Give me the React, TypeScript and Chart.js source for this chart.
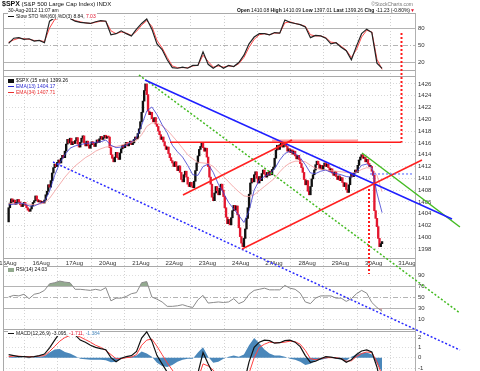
import React, { useEffect, useRef } from 'react';
import { Chart, registerables } from 'chart.js';

Chart.register(...registerables);

const W = 480;
const H = 371;
const FONT = "'Liberation Sans', Arial, sans-serif";

// ---------------- data ----------------
const dayLabels = ['15Aug', '16Aug', '17Aug', '20Aug', '21Aug', '22Aug', '23Aug', '24Aug', '27Aug', '28Aug', '29Aug', '30Aug', '31Aug'];
const BARS_PER_DAY = 26;

// 15-minute closes, one array per session
const firstOpen = 1402.6;
const closes15Aug = [1405.0, 1405.8, 1406.5, 1406.0, 1406.3, 1405.6, 1405.9, 1406.4, 1406.0, 1405.5, 1405.2, 1405.6, 1405.9, 1405.4, 1405.0, 1404.6, 1404.4, 1404.8, 1405.3, 1405.9, 1406.2, 1407.0, 1406.4, 1406.0, 1406.2, 1405.9];
const closes16Aug = [1406.0, 1405.8, 1406.3, 1407.2, 1407.8, 1408.9, 1408.5, 1409.6, 1410.9, 1411.8, 1412.4, 1412.0, 1412.7, 1413.1, 1412.6, 1413.4, 1413.9, 1413.5, 1414.6, 1415.8, 1416.6, 1416.0, 1416.8, 1415.7, 1416.2, 1415.9];
const closes17Aug = [1416.4, 1416.9, 1415.8, 1415.3, 1416.1, 1416.8, 1417.2, 1416.0, 1415.5, 1416.3, 1415.6, 1415.1, 1415.7, 1416.2, 1415.8, 1415.4, 1416.0, 1416.5, 1416.1, 1416.7, 1417.1, 1416.6, 1416.9, 1417.3, 1416.8, 1417.1];
const closes20Aug = [1417.0, 1415.2, 1414.0, 1413.4, 1412.8, 1413.6, 1414.4, 1413.5, 1413.2, 1414.3, 1415.0, 1415.6, 1415.2, 1415.8, 1416.1, 1415.5, 1415.9, 1416.3, 1415.7, 1416.0, 1416.6, 1417.0, 1416.7, 1417.6, 1418.4, 1419.6];
const closes21Aug = [1421.2, 1423.1, 1424.9, 1426.0, 1424.2, 1421.4, 1420.8, 1421.2, 1420.1, 1419.6, 1420.3, 1419.2, 1418.8, 1418.0, 1417.4, 1416.6, 1417.0, 1416.2, 1415.5, 1414.9, 1415.3, 1414.2, 1413.5, 1413.0, 1412.6, 1412.0];
const closes22Aug = [1412.8, 1412.0, 1411.3, 1412.1, 1411.0, 1409.8, 1409.4, 1410.6, 1411.2, 1410.2, 1409.0, 1408.6, 1409.3, 1408.7, 1408.4, 1409.5, 1411.3, 1412.6, 1413.8, 1414.9, 1415.4, 1416.0, 1415.2, 1414.6, 1415.1, 1413.6];
const closes23Aug = [1412.0, 1410.2, 1409.0, 1406.8, 1406.2, 1407.5, 1408.6, 1407.9, 1407.2, 1408.3, 1409.0, 1408.0, 1406.9, 1405.0, 1403.4, 1402.3, 1403.0, 1402.1, 1403.3, 1404.5, 1405.4, 1404.6, 1405.3, 1403.8, 1401.6, 1400.1];
const closes24Aug = [1399.0, 1398.4, 1399.8, 1401.4, 1403.2, 1405.0, 1407.3, 1409.2, 1410.0, 1409.4, 1410.6, 1411.1, 1410.0, 1409.2, 1410.3, 1409.6, 1410.8, 1411.4, 1410.7, 1410.2, 1411.0, 1410.5, 1411.2, 1410.6, 1411.5, 1411.9];
const closes27Aug = [1413.4, 1414.8, 1415.6, 1414.9, 1415.7, 1416.0, 1415.3, 1415.8, 1416.1, 1415.4, 1414.6, 1415.0, 1414.4, 1414.8, 1414.1, 1414.6, 1413.8, 1413.3, 1413.9, 1413.2, 1412.5, 1411.8, 1411.0, 1409.8, 1408.9, 1409.6];
const closes28Aug = [1407.8, 1407.2, 1408.6, 1409.9, 1410.6, 1411.4, 1412.3, 1412.9, 1412.4, 1411.7, 1412.2, 1411.5, 1412.1, 1412.6, 1412.0, 1412.4, 1411.8, 1411.2, 1411.6, 1410.9, 1410.5, 1411.1, 1410.3, 1409.8, 1410.4, 1409.6];
const closes29Aug = [1410.1, 1409.3, 1408.6, 1409.2, 1408.1, 1407.6, 1408.9, 1410.2, 1410.8, 1410.3, 1410.9, 1411.4, 1411.0, 1412.2, 1413.1, 1413.6, 1414.0, 1413.4, 1413.6, 1412.8, 1413.2, 1412.5, 1412.0, 1412.0, 1411.2, 1410.5];
const closes30Aug = [1404.5, 1403.2, 1401.8, 1399.8, 1398.4, 1398.9, 1399.26];

// indicators, sampled every 4th bar
const INDICATOR_STEP = 4;
const ema13 = [1405.5, 1405.6, 1405.8, 1405.7, 1405.3, 1405.3, 1405.7, 1406.0, 1407.8, 1410.5, 1412.6, 1414.0, 1415.1, 1415.5, 1415.7, 1415.9, 1416.0, 1416.1, 1416.2, 1416.5, 1415.6, 1415.2, 1415.3, 1415.6, 1416.2, 1416.9, 1419.0, 1421.4, 1422.1, 1420.8, 1419.1, 1417.7, 1415.6, 1414.5, 1413.6, 1412.2, 1410.6, 1410.5, 1412.0, 1412.4, 1411.0, 1409.0, 1407.5, 1405.9, 1404.8, 1403.7, 1402.5, 1404.5, 1408.0, 1409.7, 1410.3, 1410.8, 1411.6, 1413.1, 1414.2, 1414.6, 1414.2, 1413.5, 1412.3, 1410.9, 1410.8, 1411.2, 1411.4, 1411.0, 1410.8, 1410.6, 1410.3, 1410.2, 1411.1, 1412.2, 1412.4, 1411.8, 1407.5, 1404.17];
const ema34 = [1405.7, 1405.7, 1405.7, 1405.7, 1405.6, 1405.5, 1405.6, 1405.8, 1406.6, 1407.8, 1409.0, 1410.2, 1411.2, 1412.1, 1412.8, 1413.5, 1414.0, 1414.6, 1415.0, 1415.3, 1415.4, 1415.4, 1415.6, 1415.9, 1416.1, 1416.4, 1417.4, 1418.8, 1419.4, 1419.4, 1418.9, 1418.2, 1417.2, 1416.2, 1415.1, 1414.0, 1413.3, 1412.7, 1412.6, 1412.5, 1412.0, 1411.1, 1410.3, 1409.4, 1408.5, 1407.7, 1407.0, 1406.9, 1407.2, 1407.9, 1408.6, 1409.3, 1410.0, 1411.1, 1412.0, 1412.6, 1412.9, 1412.9, 1412.8, 1412.2, 1411.7, 1411.5, 1411.4, 1411.3, 1411.2, 1411.1, 1411.0, 1410.9, 1411.0, 1411.5, 1411.8, 1411.7, 1410.5, 1407.71];
const stochK = [53, 62, 63, 60, 61, 57, 58, 54, 92, 98, 99, 98, 97, 92, 90, 89, 88, 91, 93, 92, 68, 70, 75, 70, 66, 78, 88, 96, 78, 52, 42, 24, 10, 9, 11, 9, 14, 14, 38, 16, 9, 15, 9, 14, 12, 19, 32, 52, 64, 70, 70, 68, 72, 71, 94, 90, 88, 86, 82, 63, 67, 66, 62, 52, 54, 46, 40, 24, 48, 70, 78, 72, 18, 8.84];
const stochD = [55, 59, 62, 61, 60, 58, 58, 56, 80, 95, 98, 98, 97, 93, 91, 89, 88, 90, 92, 92, 75, 70, 73, 71, 67, 74, 85, 93, 83, 58, 45, 28, 13, 10, 10, 10, 13, 14, 32, 21, 11, 13, 11, 13, 12, 17, 28, 46, 60, 68, 70, 68, 71, 71, 89, 91, 88, 86, 83, 68, 66, 66, 63, 55, 54, 48, 41, 28, 42, 64, 76, 73, 25, 7.03];
const rsi14 = [50, 53, 52, 55, 47, 55, 57, 62, 74, 76, 79, 77, 76, 64, 64, 63, 62, 64, 62, 67, 43, 48, 48, 51, 56, 58, 76, 78, 50, 46, 41, 33, 33, 34, 36, 33, 31, 45, 53, 39, 40, 41, 40, 41, 47, 38, 42, 55, 62, 64, 66, 63, 63, 63, 71, 66, 64, 57, 41, 38, 48, 52, 52, 52, 48, 48, 42, 47, 56, 62, 57, 40, 31, 24.03];
const macdLine = [0.3, 0.2, 0.1, 0.1, 0.05, 0.1, 0.2, 0.35, 0.95, 1.7, 2.4, 2.5, 2.3, 2.2, 1.7, 1.5, 1.2, 1.0, 0.87, 0.77, 0.0, -0.4, -0.05, 0.1, 0.2, 0.6, 1.9, 2.5, 1.6, 0.2, -0.6, -1.4, -2.0, -2.4, -2.6, -2.7, -2.6, -1.5, 0.5, -0.6, -1.6, -2.2, -2.5, -2.6, -2.6, -2.9, -2.5, -0.4, 1.0, 1.5, 1.7, 1.65, 1.4, 1.45, 1.65, 1.7, 1.5, 1.07, 0.2, -0.45, -0.35, -0.1, 0.1, 0.05, -0.05, -0.1, -0.45, -0.2, 0.3, 0.65, 0.75, 0.55, -0.9, -3.095];
const macdSignal = [0.1, 0.15, 0.15, 0.1, 0.1, 0.1, 0.15, 0.2, 0.6, 1.1, 1.6, 1.95, 2.15, 2.2, 2.0, 1.75, 1.5, 1.2, 1.0, 0.7, 0.3, -0.1, -0.1, 0.0, 0.05, 0.3, 1.2, 1.7, 1.8, 1.1, 0.3, -0.5, -1.2, -1.9, -2.3, -2.5, -2.5, -2.1, -0.6, -0.8, -1.2, -1.8, -2.3, -2.5, -2.6, -2.7, -2.7, -1.5, 0.0, 1.0, 1.3, 1.5, 1.45, 1.45, 1.5, 1.6, 1.55, 1.3, 0.7, -0.1, -0.2, -0.1, 0.0, 0.0, 0.0, -0.1, -0.35, -0.3, 0.1, 0.4, 0.55, 0.5, -0.4, -1.711];
const macdHist = [0.05, 0.1, 0.05, 0, -0.05, 0.05, 0.1, 0.15, 0.5, 0.8, 0.85, 0.55, 0.4, 0.15, -0.1, -0.15, -0.2, -0.2, -0.2, -0.25, -0.45, -0.4, -0.1, 0.05, 0.1, 0.2, 0.6, 0.4, 0.1, -0.5, -0.8, -0.9, -0.7, -0.4, -0.2, -0.1, -0.1, 0.5, 1.0, 0.1, -0.5, -0.4, -0.1, 0.1, 0.2, 0.1, 0.3, 1.2, 1.9, 1.4, 0.8, 0.4, 0.2, 0.2, 0.1, -0.1, -0.2, -0.4, -0.7, -0.6, -0.3, -0.2, -0.1, 0.05, -0.1, -0.2, -0.3, 0.1, 0.3, 0.45, 0.5, 0.3, -0.6, -1.384];

// axis ticks
const priceTicks = [1398, 1400, 1402, 1404, 1406, 1408, 1410, 1412, 1414, 1416, 1418, 1420, 1422, 1424, 1426];
const stochTicks = [20, 50, 80];
const rsiTicks = [10, 30, 50, 70, 90];
const macdTicks = [-1, 0, 1, 2];

// annotation lines: [bar index, price]
const blueTrend = [[106.6, 1426.68], [346.7, 1403.09]];
const greenTrend = [[276.3, 1414.29], [352.9, 1401.73]];
const greenChannel = [[101.9, 1427.53], [352.9, 1387.14]];
const blueChannel = [[34.7, 1412.76], [352.9, 1380.86]];
const redResistance = [[126.2, 1416.1], [307.2, 1416.1]];
const pinkResistance = [[206.0, 1416.4], [273.2, 1416.4]];
const redTarget = [[307.2, 1434.65], [307.2, 1416.1]];
const redLowerChannel = [[182.5, 1398.0], [323.2, 1413.1]];
const redUpperChannel = [[136.3, 1407.16], [221.6, 1416.5]];
const redDrop = [[281.8, 1408.18], [281.8, 1393.76]];
const blueLevel = [[282.6, 1410.73], [315.4, 1410.73]];

// ---------------- layout (pixels) ----------------
const PLOT = { left: 3, right: 415, top: 13, bottom: H };
const X_ANCHOR = { v1: -0.5, p1: 8, v2: 311.5, p2: 407 };
const PRICE_ANCHOR = { v1: 1426, p1: 84, v2: 1398, p2: 249 };
const STOCH_ANCHOR = { v1: 80, p1: 28, v2: 20, p2: 62 };
const RSI_ANCHOR = { v1: 70, p1: 286, v2: 30, p2: 308 };
const MACD_ANCHOR = { v1: 2, p1: 337, v2: -1, p2: 368 };
const PANEL_EDGES = [13, 70, 76, 258, 266, 329, 331];
const X_AXIS_PIXEL = 258;
const OVERLAID_AXES = ['stoch', 'rsi', 'macd'];

type Anchor = { v1: number; p1: number; v2: number; p2: number };
const valueAtPixel = (a: Anchor, p: number) => a.v1 + ((p - a.p1) * (a.v2 - a.v1)) / (a.p2 - a.p1);
const rangeOver = (a: Anchor, p0: number, p1: number) => {
  const u = valueAtPixel(a, p0);
  const w = valueAtPixel(a, p1);
  return { min: Math.min(u, w), max: Math.max(u, w) };
};

const tickFont = { family: FONT, size: 6 };

function valueAxis(anchor: Anchor, ticks: number[], weight: number, width: number, gridColor: any, gridDash: any, showBorder = false) {
  const r = rangeOver(anchor, PLOT.top, PLOT.bottom);
  return {
    type: 'linear',
    position: 'right',
    weight,
    min: r.min,
    max: r.max,
    bounds: 'data',
    afterBuildTicks: (s: any) => {
      s.ticks = ticks.map((v) => ({ value: v }));
    },
    afterFit: (s: any) => {
      s.width = width;
      s.paddingTop = 0;
      s.paddingBottom = 0;
    },
    ticks: { font: tickFont, color: '#333', padding: 3, autoSkip: false, callback: (v: any) => String(v) },
    grid: { color: gridColor, drawTicks: false, lineWidth: 1 },
    border: { display: showBorder, color: '#b0b0b0', dash: gridDash },
  };
}

// the indicator axes take no room of their own; widen their label box after layout so labels show
const overlayAxesPlugin = {
  id: 'overlayAxes',
  afterLayout(chart: any) {
    for (const id of OVERLAID_AXES) {
      const s = chart.scales[id];
      if (s) s.right = W;
    }
  },
};

const pts = (arr: number[][]) => arr.map(([x, y]) => ({ x, y }));
const series = (arr: number[]) => arr.map((y, k) => ({ x: k * INDICATOR_STEP, y }));

function line(data: any[], color: string, width: number, dash: number[] = [], yAxisID = 'y', extra: any = {}) {
  return {
    type: 'line',
    data,
    yAxisID,
    borderColor: color,
    borderWidth: width,
    borderDash: dash,
    pointRadius: 0,
    tension: 0,
    fill: false,
    clip: false,
    ...extra,
  };
}

function ChartPanel() {
  const ref = useRef<HTMLCanvasElement | null>(null);
  useEffect(() => {
    const closes = [
      ...closes15Aug, ...closes16Aug, ...closes17Aug, ...closes20Aug, ...closes21Aug, ...closes22Aug,
      ...closes23Aug, ...closes24Aug, ...closes27Aug, ...closes28Aug, ...closes29Aug, ...closes30Aug,
    ];
    const candles = closes.map((c, i) => ({ x: i, y: [i === 0 ? firstOpen : closes[i - 1], c] }));
    const candleColors = candles.map((d) => (d.y[1] >= d.y[0] ? '#111' : '#e3172f'));

    const xr = rangeOver(X_ANCHOR, PLOT.left, PLOT.right);
    const dotted = (ctx: any) => (ctx.tick ? [1, 2] : []);

    const cfg: any = {
      type: 'line',
      plugins: [overlayAxesPlugin],
      data: {
        datasets: [
          line(pts(redTarget), '#ff1a1a', 2, [2, 2]),
          line(pts(redDrop), '#ff1a1a', 2, [2, 2]),
          line(pts(blueLevel), '#4a5cff', 1, [2, 2]),
          line(pts(redResistance), '#ff1a1a', 1.5),
          line(pts(redLowerChannel), '#ff2020', 1.5),
          line(pts(redUpperChannel), '#ff2020', 1.5),
          line(pts(blueTrend), '#1f1fff', 1.5),
          line(pts(greenTrend), '#44bb22', 1.5),
          line(pts(greenChannel), '#44bb22', 1.5, [2, 2]),
          line(pts(blueChannel), '#2a2aff', 1.5, [2, 2]),
          line(pts(pinkResistance), 'rgba(255,120,120,0.7)', 2),
          line(series(ema13), '#3b3bd0', 0.8, [], 'y', { clip: 0 }),
          line(series(ema34), '#f29a9a', 0.8, [], 'y', { clip: 0 }),
          {
            type: 'bar',
            data: candles,
            yAxisID: 'y',
            backgroundColor: candleColors,
            borderWidth: 0,
            barThickness: 1.7,
            minBarLength: 1,
            grouped: false,
          },
          line(series(stochK), '#222', 1.2, [], 'stoch', { clip: 0 }),
          line(series(stochD), '#ff4a4a', 1, [], 'stoch', { clip: 0 }),
          line(series(rsi14), '#8a8a8a', 1, [], 'rsi', {
            clip: 0,
            fill: { target: { value: 70 }, above: '#93aa8f', below: 'rgba(0,0,0,0)' },
          }),
          line(series(rsi14), 'rgba(0,0,0,0)', 0, [], 'rsi', {
            clip: 0,
            fill: { target: { value: 30 }, above: 'rgba(0,0,0,0)', below: '#c9a9ab' },
          }),
          line(series(macdLine), '#111', 1.2, [], 'macd', { clip: 0 }),
          line(series(macdSignal), '#ff4040', 1, [], 'macd', { clip: 0 }),
          line(series(macdHist), 'rgba(0,0,0,0)', 0, [], 'macd', {
            clip: 0,
            fill: { target: { value: 0 }, above: '#4a87ba', below: '#4a87ba' },
          }),
        ],
      },
      options: {
        responsive: false,
        animation: false,
        devicePixelRatio: 1,
        events: [],
        layout: { padding: { left: PLOT.left, top: PLOT.top, right: 0, bottom: 0 } },
        plugins: { legend: { display: false }, tooltip: { enabled: false }, title: { display: false } },
        scales: {
          x: {
            type: 'linear',
            position: { y: valueAtPixel(PRICE_ANCHOR, X_AXIS_PIXEL) },
            min: xr.min,
            max: xr.max,
            bounds: 'data',
            offset: false,
            afterBuildTicks: (s: any) => {
              s.ticks = dayLabels.map((_, d) => ({ value: d * BARS_PER_DAY - 0.5 }));
            },
            afterFit: (s: any) => {
              s.paddingLeft = 0;
              s.paddingRight = 0;
            },
            ticks: {
              font: tickFont,
              color: '#333',
              padding: 2,
              autoSkip: false,
              maxRotation: 0,
              callback: (_v: any, i: number) => dayLabels[i],
            },
            grid: { color: '#d2d2d2', drawTicks: false },
            border: { display: false, dash: [1, 2] },
          },
          frame: {
            type: 'linear',
            position: 'left',
            reverse: true,
            min: PLOT.top,
            max: PLOT.bottom,
            bounds: 'data',
            afterBuildTicks: (s: any) => {
              s.ticks = PANEL_EDGES.map((v) => ({ value: v }));
            },
            afterFit: (s: any) => {
              s.width = 0;
              s.paddingTop = 0;
              s.paddingBottom = 0;
            },
            ticks: { display: false },
            grid: { color: '#a9a9a9', drawTicks: false },
            border: { display: true, color: '#a9a9a9' },
          },
          stoch: valueAxis(STOCH_ANCHOR, stochTicks, 0, 0, (c: any) => '#b4b4b4', (c: any) => (c.tick && c.tick.value === 50 ? [5, 2, 1, 2] : [])),
          rsi: valueAxis(RSI_ANCHOR, rsiTicks, 0, 0, (c: any) => (c.tick && (c.tick.value === 10 || c.tick.value === 90) ? '#dedede' : '#b4b4b4'), (c: any) => (c.tick && c.tick.value === 50 ? [5, 2, 1, 2] : c.tick && (c.tick.value === 10 || c.tick.value === 90) ? [1, 2] : [])),
          macd: valueAxis(MACD_ANCHOR, macdTicks, 0, 0, '#dcdcdc', dotted),
          y: valueAxis(PRICE_ANCHOR, priceTicks, 1, W - PLOT.right, '#d8d8d8', dotted, true),
        },
      },
    };
    const chart = new Chart(ref.current as HTMLCanvasElement, cfg);
    return () => chart.destroy();
  }, []);
  return <canvas ref={ref} width={W} height={H} style={{ display: 'block', width: W, height: H }} />;
}

const txt: React.CSSProperties = {
  position: 'absolute',
  fontFamily: FONT,
  fontSize: 5,
  lineHeight: '6px',
  whiteSpace: 'nowrap',
  color: '#111',
};
const swatch = (color: string, h = 1.5): React.CSSProperties => ({
  display: 'inline-block',
  width: 6,
  height: h,
  background: color,
  verticalAlign: 'middle',
  marginRight: 2,
});

export default function App() {
  return (
    <div style={{ position: 'absolute', left: 0, top: 0, width: W, height: H, background: '#fff', overflow: 'hidden' }}>
      <ChartPanel />
      <div style={{ ...txt, left: 2, top: 0, fontSize: 6, lineHeight: '7px' }}>
        <b style={{ fontSize: 7 }}>$SPX</b> (S&amp;P 500 Large Cap Index) INDX
      </div>
      <div style={{ ...txt, left: 8, top: 7 }}>30-Aug-2012 11:07 am</div>
      <div style={{ ...txt, right: W - 413, top: 1, color: '#777' }}>©StockCharts.com</div>
      <div style={{ ...txt, right: W - 415, top: 7 }}>
        <b>Open</b> 1410.08 <b>High</b> 1410.09 <b>Low</b> 1397.01 <b>Last</b> 1399.26 <b>Chg</b> -11.23 (-0.80%)
        <span style={{ color: '#e0102a' }}>▼</span>
      </div>
      <div style={{ ...txt, left: 8, top: 13, background: '#fff', paddingRight: 1 }}>
        <span style={swatch('#111')} />Slow STO %K(60),%D(3) 8.84, <span style={{ color: '#e0102a' }}>7.03</span>
      </div>
      <div style={{ ...txt, left: 8, top: 77, background: '#fff' }}>
        <span style={swatch('#111', 4)} />$SPX (15 min) 1399.26
      </div>
      <div style={{ ...txt, left: 8, top: 83, color: '#2a2ad0', background: '#fff' }}>
        <span style={swatch('#2a2ad0')} />EMA(13) 1404.17
      </div>
      <div style={{ ...txt, left: 8, top: 89, color: '#e83030', background: '#fff' }}>
        <span style={swatch('#e83030')} />EMA(34) 1407.71
      </div>
      <div style={{ ...txt, left: 8, top: 266, background: '#fff' }}>
        <span style={swatch('#93aa8f', 4)} />RSI(14) 24.03
      </div>
      <div style={{ ...txt, left: 8, top: 330, background: '#fff' }}>
        <span style={swatch('#111')} />MACD(12,26,9) -3.095, <span style={{ color: '#e0102a' }}>-1.711,</span>{' '}
        <span style={{ color: '#4a87ba' }}>-1.384</span>
      </div>
    </div>
  );
}
